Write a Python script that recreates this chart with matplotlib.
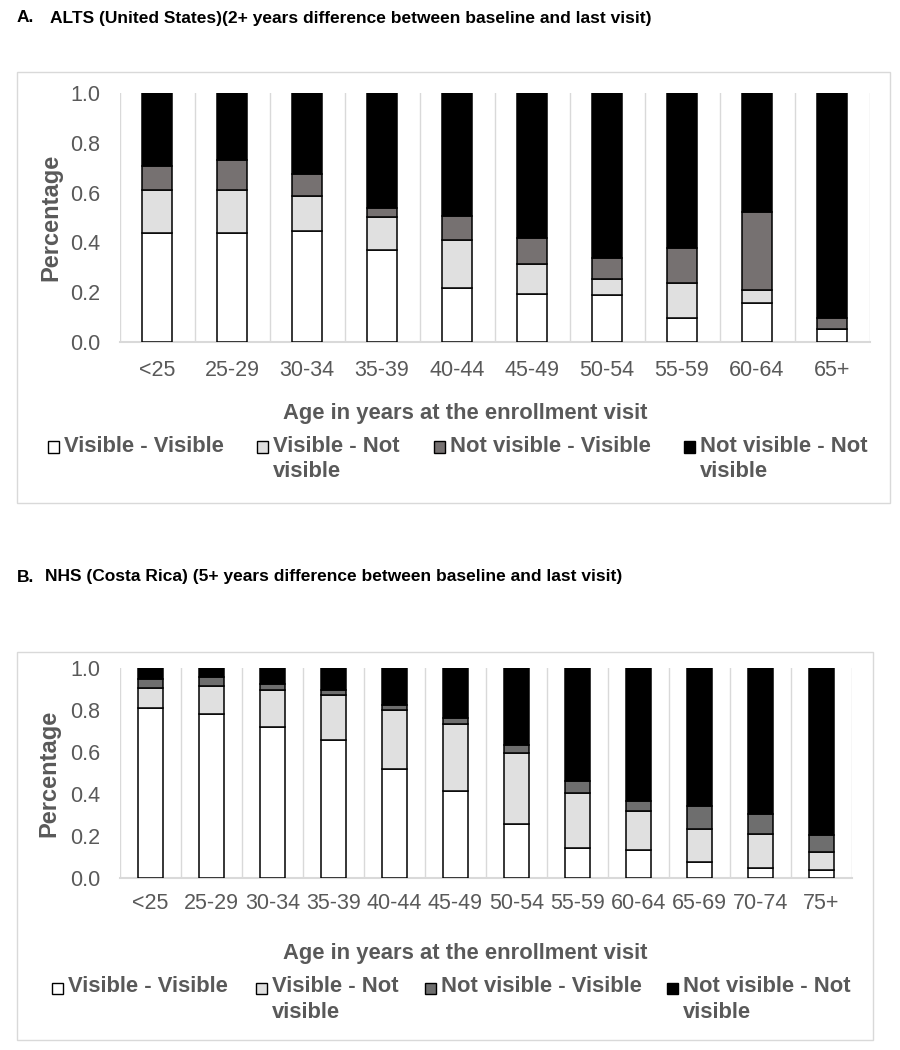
import matplotlib
matplotlib.use("Agg")
import matplotlib.pyplot as plt
from matplotlib.patches import Rectangle

plt.rcParams['font.family'] = ['Liberation Sans', 'DejaVu Sans']

# ---------------- data ----------------
series_names = ["Visible - Visible", "Visible - Not\nvisible",
                "Not visible - Visible", "Not visible - Not\nvisible"]

a_categories = ["<25", "25-29", "30-34", "35-39", "40-44", "45-49",
                "50-54", "55-59", "60-64", "65+"]
a_vis_vis = [0.438, 0.436, 0.444, 0.369, 0.215, 0.194, 0.187, 0.098, 0.158, 0.052]
a_vis_not = [0.174, 0.174, 0.144, 0.132, 0.194, 0.119, 0.067, 0.140, 0.052, 0.000]
a_not_vis = [0.094, 0.119, 0.088, 0.036, 0.099, 0.103, 0.082, 0.140, 0.313, 0.046]
a_not_not = [0.294, 0.271, 0.324, 0.463, 0.492, 0.584, 0.664, 0.622, 0.477, 0.902]

b_categories = ["<25", "25-29", "30-34", "35-39", "40-44", "45-49",
                "50-54", "55-59", "60-64", "65-69", "70-74", "75+"]
b_vis_vis = [0.810, 0.783, 0.718, 0.658, 0.520, 0.412, 0.257, 0.141, 0.133, 0.078, 0.046, 0.038]
b_vis_not = [0.093, 0.133, 0.179, 0.214, 0.279, 0.322, 0.337, 0.262, 0.184, 0.157, 0.162, 0.087]
b_not_vis = [0.046, 0.041, 0.027, 0.025, 0.025, 0.028, 0.038, 0.061, 0.051, 0.107, 0.098, 0.078]
b_not_not = [0.051, 0.043, 0.076, 0.103, 0.176, 0.238, 0.368, 0.536, 0.632, 0.658, 0.694, 0.797]

title_a_label = "A."
title_a_text = "ALTS (United States)(2+ years difference between baseline and last visit)"
title_b_label = "B."
title_b_text = "NHS (Costa Rica) (5+ years difference between baseline and last visit)"
x_label = "Age in years at the enrollment visit"
y_label = "Percentage"
y_ticks = [0, 0.2, 0.4, 0.6, 0.8, 1.0]
y_tick_labels = ["0.0", "0.2", "0.4", "0.6", "0.8", "1.0"]

colors = ["#ffffff", "#e0e0e0", "#767171", "#000000"]
GRAY = "#595959"
GRID = "#d9d9d9"

W, H = 900, 1050
fig = plt.figure(figsize=(W / 100, H / 100), dpi=100)


def fx(x):
    return x / W


def fy(y):
    return 1 - y / H


def panel(box, axpos, cats, series, tlabel, ttext, title_x, title_y,
          xpad_px, xlabel_y, leg_y, leg_sq, leg_tx, dark, ylabel_pad):
    x0, y0, x1, y1 = box
    fig.patches.append(Rectangle((fx(x0), fy(y1)), fx(x1 - x0), (y1 - y0) / H,
                                 transform=fig.transFigure, facecolor="white",
                                 edgecolor=GRID, linewidth=1.0, zorder=-5))
    fig.text(fx(17), fy(title_y), tlabel, fontsize=12.5, fontweight="bold",
             va="center", ha="left", color="black")
    fig.text(fx(title_x), fy(title_y), ttext, fontsize=12.5,
             fontweight="bold", va="center", ha="left", color="black")

    l, r, b, t = axpos
    ax = fig.add_axes([fx(l), fy(b), fx(r - l), (b - t) / H])
    ax.set_zorder(2)
    ax.patch.set_alpha(0)
    n = len(cats)
    xs = list(range(n))
    bottom = [0.0] * n
    cols = list(colors)
    cols[2] = dark
    for vals, c in zip(series, cols):
        ax.bar(xs, vals, width=0.41, bottom=bottom, color=c,
               edgecolor="black", linewidth=1.1, zorder=3)
        bottom = [bb + v for bb, v in zip(bottom, vals)]
    ax.set_xlim(-0.5, n - 0.5)
    ax.set_ylim(0, 1.0)
    ax.set_yticks(y_ticks)
    ax.set_yticklabels(y_tick_labels)
    ax.set_xticks(xs)
    ax.set_xticklabels(cats)
    for i in range(n + 1):
        ax.axvline(i - 0.5, color=GRID, linewidth=1.0, zorder=1)
    for s in ["top", "right", "left"]:
        ax.spines[s].set_visible(False)
    ax.spines["bottom"].set_color(GRID)
    ax.spines["bottom"].set_linewidth(1.5)
    ax.spines["bottom"].set_zorder(2)
    ax.tick_params(axis="both", length=0, labelsize=15.5, labelcolor=GRAY)
    ax.tick_params(axis="y", pad=14)
    ax.tick_params(axis="x", pad=xpad_px * 0.72)
    ax.set_ylabel(y_label, fontsize=17, fontweight="bold", color=GRAY,
                  labelpad=ylabel_pad)
    fig.text(fx(465), fy(xlabel_y), x_label,
             fontsize=15.8, fontweight="bold", color=GRAY, ha="center", va="center")
    for name, c, sx, tx in zip(series_names, cols, leg_sq, leg_tx):
        sq = 11
        fig.patches.append(Rectangle((fx(sx), fy(leg_y + sq / 2)), fx(sq), sq / H,
                                     transform=fig.transFigure, facecolor=c,
                                     edgecolor="black", linewidth=1.0, zorder=5))
        fig.text(fx(tx), fy(leg_y - 11.5), name, fontsize=15.8, fontweight="bold",
                 color=GRAY, ha="left", va="top", linespacing=1.3)
    return ax


panel((17, 72, 890, 503), (119.5, 869.5, 342, 93), a_categories,
      [a_vis_vis, a_vis_not, a_not_vis, a_not_not], title_a_label, title_a_text,
      50, 18, 18, 413, 447, [48, 257, 434, 684], [64, 273, 450, 700], "#767171", 5)

panel((17, 652, 873, 1040), (120, 852, 878, 668), b_categories,
      [b_vis_vis, b_vis_not, b_not_vis, b_not_not], title_b_label, title_b_text,
      45, 577, 15, 953, 988, [52, 256, 425, 667], [68, 272, 441, 683], "#6e6e6e", 7)

fig.savefig("out.png", dpi=100, facecolor="white")
